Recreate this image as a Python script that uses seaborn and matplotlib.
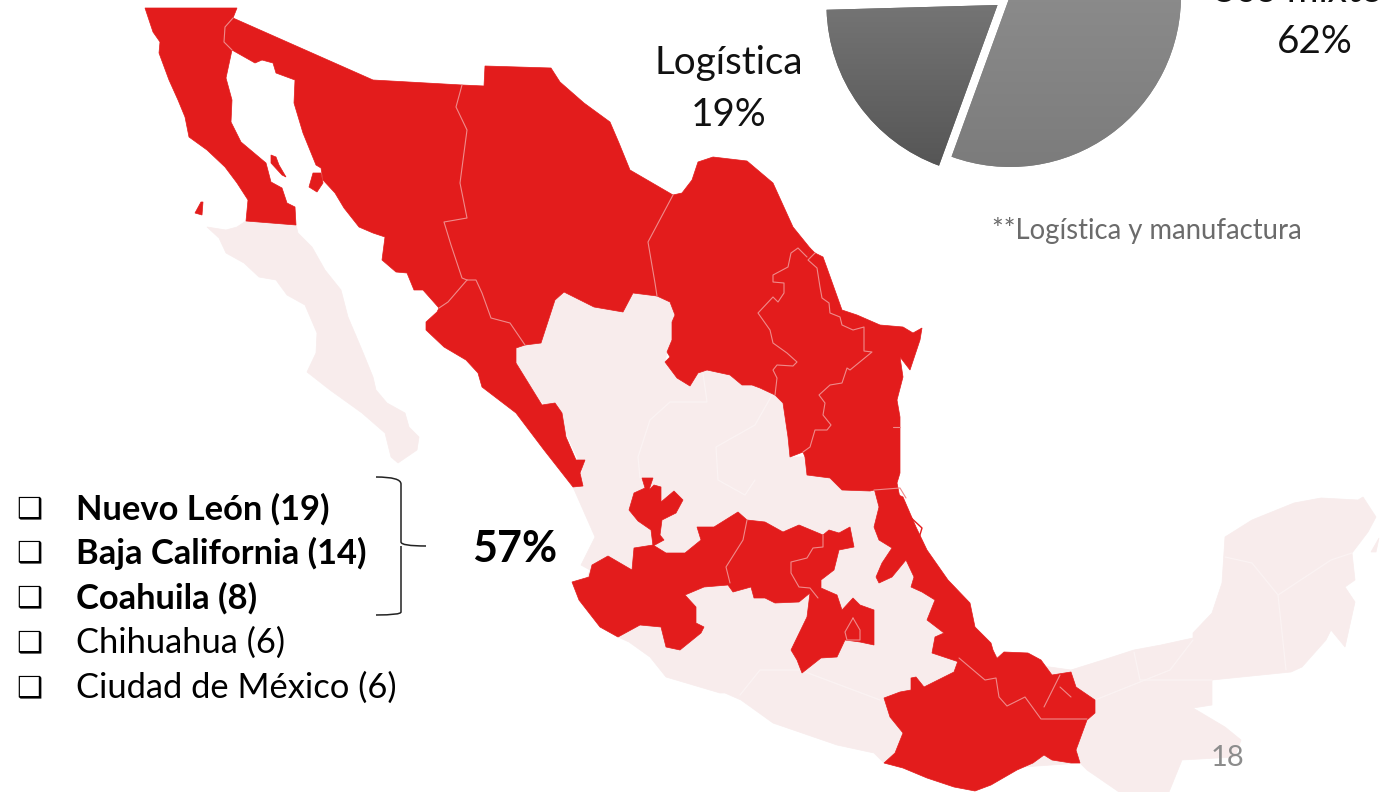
# -*- coding: utf-8 -*-
"""Mapa de México con estados resaltados, pastel de uso y lista de estados."""

import numpy as np
import matplotlib.pyplot as plt
from matplotlib.colors import to_rgb
from matplotlib.patches import PathPatch, Polygon
from matplotlib.path import Path
import seaborn as sns

sns.set_theme(style="white")
plt.rcParams['font.family'] = ['Lato', 'DejaVu Sans']

W, H = 1382, 792
RED = '#e31c1c'
PINK = '#f8ecec'
LINE_RED = '#ef8a8a'
LINE_PINK = '#fbf3f3'

# datos del pastel
pie_values = [19, 62, 19]
pie_colors = ['#666666', '#848484', '#444444']

# lista de estados
state_labels = ['Nuevo León (19)', 'Baja California (14)', 'Coahuila (8)',
                'Chihuahua (6)', 'Ciudad de México (6)']
state_bold = [True, True, True, False, False]
state_rows = [509, 553, 598, 643, 688]

# fronteras compartidas (pixeles de la imagen)
b_bc_son = [(233, 18), (225, 27), (224, 42), (232, 50)]
b_son_chi = [(462, 85), (456, 107), (467, 130), (460, 183), (467, 218), (444, 222),
             (451, 245), (462, 278), (467, 280)]
b_son_sin = [(467, 280), (448, 302), (439, 308)]
b_chi_sin = [(467, 280), (476, 280), (482, 293), (491, 318), (510, 323), (525, 345)]
b_chi_coa = [(673, 195), (648, 242), (655, 283), (657, 296)]
b_coa_nl = [(807, 257), (798, 248), (791, 253), (788, 267), (773, 275), (773, 282), (784, 283),
            (784, 293), (778, 302), (773, 297), (758, 313), (770, 330), (773, 343), (787, 353),
            (797, 362), (793, 366), (777, 365), (773, 370), (777, 378), (775, 395)]
b_nl_tam = [(815, 253), (808, 260), (817, 268), (820, 287), (822, 298), (829, 303), (830, 313),
            (840, 317), (842, 325), (853, 330), (864, 327), (864, 351), (872, 352), (850, 370),
            (847, 368), (842, 383), (830, 385), (819, 395), (825, 403), (823, 415), (831, 425),
            (827, 430), (815, 430), (810, 447), (803, 452)]

# estados en rojo
baja_california = [(145, 8), (237, 8)] + b_bc_son + [
    (226, 78), (232, 100), (231, 122), (241, 142), (266, 163), (271, 182), (282, 188), (287, 203),
    (295, 207), (296, 225), (246, 221), (248, 200), (237, 183), (225, 167), (207, 150), (189, 137),
    (185, 117), (178, 100), (169, 80), (159, 53), (160, 42), (153, 32)]
sonora = [(233, 18), (373, 80)] + b_son_chi + b_son_sin[1:] + [
    (423, 290), (414, 290), (407, 273), (396, 272), (382, 260), (385, 237), (373, 233), (359, 227),
    (344, 208), (335, 193), (323, 180), (321, 168), (316, 165), (303, 133), (294, 103), (295, 80),
    (276, 73), (273, 63), (262, 60), (255, 63)] + b_bc_son[::-1]
chihuahua = [(484, 86), (485, 66), (551, 68), (560, 82), (584, 103), (610, 122), (619, 143),
             (630, 170)] + b_chi_coa + [
    (633, 293), (623, 312), (594, 307), (564, 292), (555, 300), (541, 343)] + b_chi_sin[::-1] + b_son_chi[::-1]
sinaloa = b_chi_sin + [
    (516, 348), (516, 363), (537, 397), (542, 405), (555, 403), (562, 413), (566, 437), (576, 460),
    (585, 460), (580, 473), (583, 486), (573, 487), (544, 450), (516, 413), (482, 387), (478, 373),
    (466, 360), (444, 347), (426, 330), (426, 322), (437, 312)] + b_son_sin[::-1][:2]
coahuila = [(673, 195), (682, 193), (692, 180), (698, 162), (713, 157), (747, 161), (773, 183),
            (793, 227), (810, 248)] + b_coa_nl + [
    (760, 388), (752, 385), (742, 385), (730, 375), (707, 370), (698, 373), (690, 386), (677, 378),
    (665, 362), (670, 357), (667, 352), (672, 340), (672, 322), (675, 315), (670, 302)] + b_chi_coa[::-1]
nuevo_leon = [(810, 248), (815, 253)] + b_nl_tam + [(790, 457), (788, 437), (783, 403)] + b_coa_nl[::-1]
tamaulipas = [(815, 253), (823, 257), (827, 268), (842, 310), (857, 315), (880, 325), (903, 327),
              (913, 333), (922, 328), (920, 340), (910, 370), (900, 357), (903, 377), (897, 400),
              (900, 417), (900, 473), (897, 483), (900, 498), (883, 488), (870, 491), (842, 490),
              (830, 478), (807, 475), (805, 457)] + b_nl_tam[::-1]
veracruz = [(874, 488), (884, 488), (903, 497), (916, 527), (927, 550), (948, 580), (970, 603),
            (975, 627), (991, 643), (993, 650), (1001, 667), (985, 680), (964, 658), (959, 662),
            (932, 653), (935, 637), (944, 633), (927, 620), (935, 600), (922, 592), (911, 587),
            (914, 577), (906, 560), (892, 577), (879, 583), (876, 577), (882, 563), (892, 548),
            (879, 540), (874, 527), (879, 507)]
centro = [(653, 545), (666, 553), (685, 553), (701, 540), (697, 527), (714, 527), (738, 512), (747, 520),
          (765, 522), (783, 532), (799, 525), (823, 535), (829, 530), (839, 533), (850, 527), (854, 547),
          (839, 550), (834, 570), (821, 580), (821, 588), (837, 595), (842, 610), (853, 598), (860, 605),
          (874, 610), (874, 645), (860, 642), (845, 640), (837, 657), (821, 658), (802, 673), (797, 660),
          (791, 650), (807, 617), (810, 593), (799, 602), (775, 603), (765, 598), (754, 598), (751, 587),
          (733, 592), (728, 585), (704, 587), (685, 595), (696, 607), (696, 623), (704, 627), (701, 633),
          (680, 650), (666, 647), (661, 627), (640, 625), (618, 637), (600, 627), (579, 600), (572, 582),
          (589, 577), (592, 565), (608, 556), (632, 570), (634, 548)]
zacatecas_frag = [(642, 478), (653, 478), (649, 490), (654, 485), (661, 487), (661, 502), (674, 491),
                  (683, 500), (676, 513), (662, 520), (660, 535), (664, 540), (653, 546), (651, 530),
                  (638, 521), (629, 510), (634, 493), (645, 488)]
oaxaca = [(911, 678), (916, 677), (924, 687), (938, 680), (954, 672), (959, 658), (967, 658), (985, 680),
          (993, 662), (1004, 652), (1028, 653), (1041, 660), (1052, 675), (1071, 672), (1076, 687),
          (1095, 700), (1095, 713), (1087, 720), (1076, 750), (1080, 763), (1071, 763), (1052, 760),
          (1044, 755), (1033, 763), (1017, 770), (991, 785), (975, 791), (954, 787), (927, 778), (903, 768),
          (884, 763), (895, 753), (903, 733), (890, 717), (884, 698), (900, 692), (911, 690)]
isla_angel = [(271, 155), (276, 157), (279, 165), (286, 177), (282, 175), (271, 163)]
isla_tiburon = [(313, 173), (321, 173), (323, 183), (317, 192), (309, 187)]
isla_guadalupe = [(201, 202), (203, 202), (202, 215), (195, 213)]
red_states = [baja_california, sonora, chihuahua, sinaloa, coahuila, nuevo_leon, tamaulipas, veracruz,
              centro, zacatecas_frag, oaxaca, isla_angel, isla_tiburon, isla_guadalupe]

# resto del país en rosa
baja_sur = [(207, 227), (226, 230), (237, 227), (246, 221), (296, 225), (298, 233), (312, 247), (325, 270),
            (341, 290), (348, 317), (362, 350), (373, 377), (376, 390), (387, 403), (405, 413), (409, 427),
            (419, 437), (417, 450), (398, 463), (391, 457), (385, 433), (362, 413), (330, 390), (307, 372),
            (316, 353), (317, 333), (305, 305), (287, 295), (276, 280), (259, 277), (244, 263), (226, 253), (219, 238)]
mainland = [(516, 348), (525, 345), (541, 343), (555, 300), (564, 292), (594, 307), (623, 312), (633, 293),
            (657, 296), (670, 302), (675, 315), (672, 340), (667, 352), (665, 362), (677, 378), (690, 386),
            (698, 373), (707, 370), (730, 375), (752, 385), (775, 395), (783, 403), (788, 437), (790, 457),
            (805, 457), (807, 475), (830, 478), (842, 490), (884, 490), (895, 520), (960, 610), (1000, 660),
            (1071, 670), (1103, 660), (1134, 650), (1161, 645), (1193, 638), (1193, 633), (1212, 613),
            (1222, 583), (1225, 537), (1252, 520), (1294, 503), (1321, 498), (1358, 500), (1363, 497),
            (1376, 517), (1368, 532), (1352, 553), (1355, 580), (1345, 587), (1355, 602), (1345, 647),
            (1331, 630), (1326, 640), (1302, 667), (1291, 672), (1212, 680), (1212, 705), (1193, 708),
            (1225, 727), (1241, 740), (1235, 757), (1182, 760), (1169, 792), (1119, 792), (1087, 770),
            (1080, 763), (980, 770), (884, 763), (874, 753), (837, 745), (773, 723), (741, 700), (725, 693),
            (720, 693), (666, 677), (650, 657), (629, 642), (618, 637), (600, 627), (579, 600), (590, 570),
            (581, 565), (595, 537), (584, 512), (573, 487), (583, 470), (560, 420), (540, 400), (516, 363)]
isla_cozumel = [(1371, 552), (1379, 538), (1376, 552)]
pink_states = [baja_sur, mainland, isla_cozumel]

# fronteras internas
red_borders = [b_bc_son, b_son_chi, b_son_sin, b_chi_sin, b_chi_coa, b_coa_nl, b_nl_tam,
               [(874, 490), (900, 488), (906, 498)],
               [(747, 520), (743, 540), (726, 567), (730, 583)],
               [(823, 535), (823, 547), (813, 548), (807, 558), (791, 562), (791, 573), (799, 587), (810, 588), (818, 598)],
               [(853, 618), (845, 632), (847, 640), (860, 640), (860, 630), (853, 618)],
               [(959, 658), (985, 680), (996, 678), (999, 697), (1007, 706), (1025, 697), (1041, 719), (1087, 719)],
               [(1060, 675), (1044, 707)], [(1060, 687), (1071, 697)], [(893, 427), (900, 427)]]
pink_borders = [[(703, 373), (707, 402), (670, 402), (650, 420), (638, 457), (640, 478)],
                [(772, 395), (755, 425), (716, 447), (718, 480), (745, 495), (755, 480)],
                [(1225, 557), (1252, 563), (1278, 595), (1286, 670)],
                [(1278, 595), (1331, 560), (1352, 553)],
                [(1193, 640), (1170, 670), (1120, 690), (1095, 700)],
                [(1134, 652), (1140, 680), (1212, 680)],
                [(740, 695), (760, 670), (800, 670), (880, 700)]]
lagoon = [(908, 515), (922, 528), (919, 538)]

# texto de la lámina
pie_texts = [('Logística', 729, 63, '#111111'), ('19%', 729, 115, '#111111'),
             ('Uso mixto', 1296, -9, '#111111'), ('62%', 1315, 42, '#111111')]
brace = [(376, 477), (401, 477), (401, 484), (401, 542), (401, 546), (426, 546), (401, 546),
         (401, 550), (401, 612), (401, 615), (376, 615)]


def up(points):
    # pasa de pixeles de imagen a y hacia arriba
    pts = np.array(points, dtype=float)
    return np.column_stack([pts[:, 0], H - pts[:, 1]])


fig = plt.figure(figsize=(W / 100, H / 100), dpi=100)
ax = fig.add_axes([0, 0, 1, 1])

for shape in pink_states:
    ax.add_patch(Polygon(up(shape), closed=True, fc=PINK, ec=PINK, lw=0.5, zorder=1))
for line in pink_borders:
    xy = up(line)
    sns.lineplot(x=xy[:, 0], y=xy[:, 1], sort=False, estimator=None, color=LINE_PINK, lw=0.9, ax=ax, zorder=2)
for shape in red_states:
    ax.add_patch(Polygon(up(shape), closed=True, fc=RED, ec=RED, lw=0.5, zorder=3))
for line in red_borders:
    xy = up(line)
    sns.lineplot(x=xy[:, 0], y=xy[:, 1], sort=False, estimator=None, color=LINE_RED, lw=0.8, ax=ax, zorder=4)
xy = up(lagoon)
sns.lineplot(x=xy[:, 0], y=xy[:, 1], sort=False, estimator=None, color=RED, lw=1.0, ax=ax, zorder=4)

# pastel recortado arriba, con degradado vertical
pie_center = up([(1010, -4)])[0]
wedges, _ = ax.pie(pie_values, explode=[15.4, 0, 15.4], colors=pie_colors, center=pie_center, radius=171,
                   startangle=181.6, wedgeprops={'linewidth': 0})
grad_stops = [('#777777', '#545454'), ('#8b8b8b', '#7b7b7b')]
for wedge, (c_top, c_bot) in zip(wedges[:2], grad_stops):
    top = np.array(to_rgb(c_top))
    bot = np.array(to_rgb(c_bot))
    t = np.linspace(0, 1, 200)[:, None, None]
    grad = top[None, None, :] * (1 - t) + bot[None, None, :] * t
    im = ax.imshow(grad, extent=(800, 1200, H - 175, H + 10), aspect='auto', zorder=5)
    im.set_clip_path(wedge)

for text, x, y, col in pie_texts:
    ax.text(x, H - y, text, fontsize=27.8, color=col, ha='center', va='center', zorder=6)
ax.text(1147, H - 230, '**Logística y manufactura', fontsize=19.8, color='#6b6b6b', ha='center', va='center', zorder=6)
ax.text(1228, H - 758, '18', fontsize=21, color='#8c8c8c', ha='center', va='center', zorder=6)

# lista con casillas
for label, bold, row in zip(state_labels, state_bold, state_rows):
    ax.text(29, H - row, '\u2751', fontsize=21, color='black', fontweight='bold', ha='center', va='center',
            family=['DejaVu Sans'], zorder=6)
    ax.text(76, H - row, label, fontsize=24.8, color='black', fontweight='bold' if bold else 'normal',
            ha='left', va='center', zorder=6)

# llave de los tres primeros
codes = [Path.MOVETO, Path.CURVE3, Path.CURVE3, Path.LINETO, Path.CURVE3, Path.CURVE3, Path.MOVETO,
         Path.CURVE3, Path.LINETO, Path.CURVE3, Path.CURVE3]
brace_path = Path(up(brace), codes)
ax.add_patch(PathPatch(brace_path, fc='none', ec='#222222', lw=1.1, zorder=6))
ax.text(515, H - 549, '57%', fontsize=31, fontweight='bold', color='black', ha='center', va='center', zorder=6)

ax.set_xlim(0, W)
ax.set_ylim(0, H)
ax.set_aspect('auto')
ax.axis('off')
fig.savefig('out.png', dpi=100, facecolor='white')
